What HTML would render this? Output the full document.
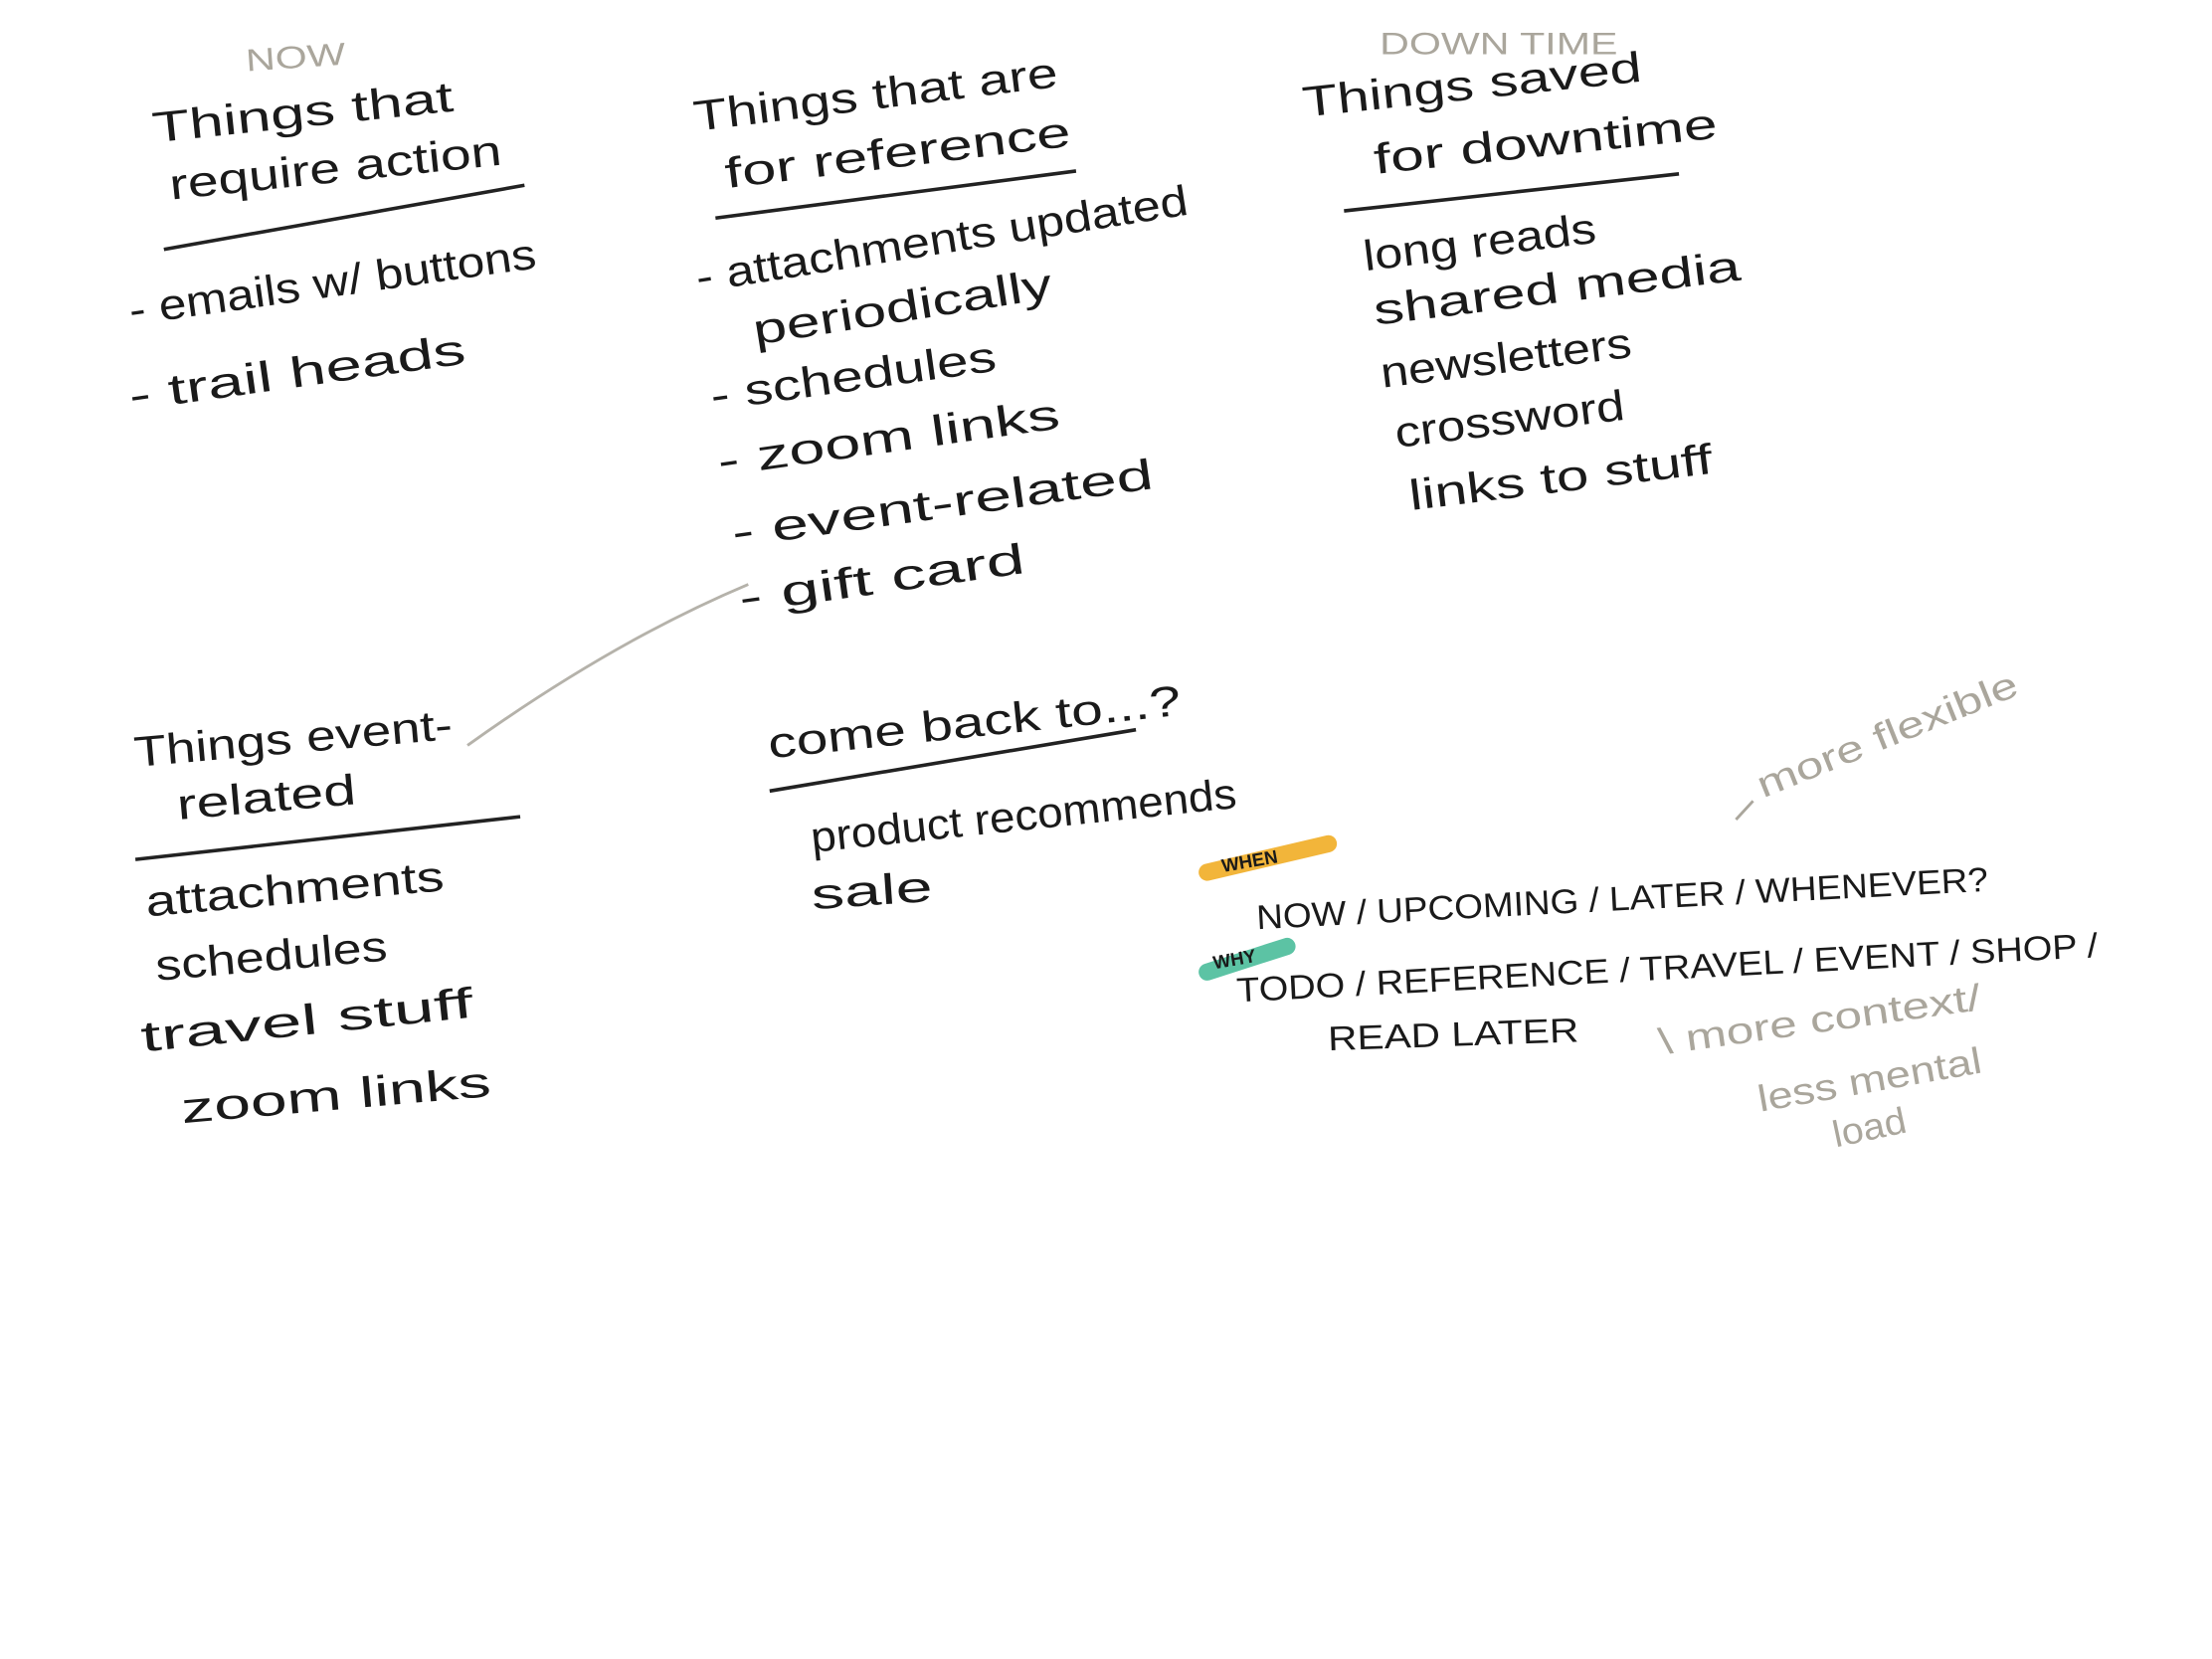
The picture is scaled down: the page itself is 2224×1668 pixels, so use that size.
<!DOCTYPE html>
<html><head><meta charset="utf-8"><style>
html,body{margin:0;padding:0;background:#fff;}
svg{display:block;}
text{font-family:"Liberation Sans",sans-serif;fill:#1a1a1a;}
.g{fill:#aaa69c;}
</style></head><body>
<svg width="2224" height="1668" viewBox="0 0 1552 1164" xmlns="http://www.w3.org/2000/svg">
<g font-size="30" lengthAdjust="spacingAndGlyphs">
<text class="g" x="173" y="50" font-size="22" textLength="70" lengthAdjust="spacingAndGlyphs" transform="rotate(-4 173 50)">NOW</text>
<text x="108" y="100" textLength="212" lengthAdjust="spacingAndGlyphs" transform="rotate(-6 108 100)">Things that</text>
<text x="120" y="140" textLength="234" lengthAdjust="spacingAndGlyphs" transform="rotate(-6 120 140)">require action</text>
<path d="M115 175 L368 130" stroke="#222" stroke-width="2.5" fill="none"/>
<text x="92" y="228" textLength="288" lengthAdjust="spacingAndGlyphs" transform="rotate(-8 92 228)">- emails w/ buttons</text>
<text x="92" y="288" textLength="238" lengthAdjust="spacingAndGlyphs" transform="rotate(-8 92 288)">- trail heads</text>

<text x="488" y="92" textLength="257" lengthAdjust="spacingAndGlyphs" transform="rotate(-7 488 92)">Things that are</text>
<text x="510" y="132" textLength="244" lengthAdjust="spacingAndGlyphs" transform="rotate(-7 510 132)">for reference</text>
<path d="M502 153 L755 120" stroke="#222" stroke-width="2.5" fill="none"/>
<text x="490" y="205" textLength="349" lengthAdjust="spacingAndGlyphs" transform="rotate(-9 490 205)">- attachments updated</text>
<text x="530" y="242" textLength="212" lengthAdjust="spacingAndGlyphs" transform="rotate(-9 530 242)">periodically</text>
<text x="500" y="288" textLength="202" lengthAdjust="spacingAndGlyphs" transform="rotate(-8 500 288)">- schedules</text>
<text x="505" y="334" textLength="242" lengthAdjust="spacingAndGlyphs" transform="rotate(-8 505 334)">- zoom links</text>
<text x="515" y="384" textLength="298" lengthAdjust="spacingAndGlyphs" transform="rotate(-8 515 384)">- event-related</text>
<text x="520" y="430" textLength="202" lengthAdjust="spacingAndGlyphs" transform="rotate(-8 520 430)">- gift card</text>
<path d="M525 410 Q430 450 328 523" stroke="#b5b2aa" stroke-width="2" fill="none"/>

<text class="g" x="968" y="38" font-size="22" textLength="167" lengthAdjust="spacingAndGlyphs">DOWN TIME</text>
<text x="915" y="82" textLength="239" lengthAdjust="spacingAndGlyphs" transform="rotate(-6 915 82)">Things saved</text>
<text x="965" y="122" textLength="242" lengthAdjust="spacingAndGlyphs" transform="rotate(-6 965 122)">for downtime</text>
<path d="M943 148 L1178 122" stroke="#222" stroke-width="2.5" fill="none"/>
<text x="958" y="190" textLength="164" lengthAdjust="spacingAndGlyphs" transform="rotate(-7 958 190)">long reads</text>
<text x="965" y="228" textLength="259" lengthAdjust="spacingAndGlyphs" transform="rotate(-7 965 228)">shared media</text>
<text x="970" y="272" textLength="177" lengthAdjust="spacingAndGlyphs" transform="rotate(-7 970 272)">newsletters</text>
<text x="980" y="314" textLength="162" lengthAdjust="spacingAndGlyphs" transform="rotate(-7 980 314)">crossword</text>
<text x="990" y="358" textLength="214" lengthAdjust="spacingAndGlyphs" transform="rotate(-7 990 358)">links to stuff</text>

<text x="95" y="538" textLength="224" lengthAdjust="spacingAndGlyphs" transform="rotate(-5 95 538)">Things event-</text>
<text x="125" y="575" textLength="126" lengthAdjust="spacingAndGlyphs" transform="rotate(-5 125 575)">related</text>
<path d="M95 603 L365 573" stroke="#222" stroke-width="2.5" fill="none"/>
<text x="103" y="643" textLength="210" lengthAdjust="spacingAndGlyphs" transform="rotate(-5 103 643)">attachments</text>
<text x="110" y="688" textLength="163" lengthAdjust="spacingAndGlyphs" transform="rotate(-5 110 688)">schedules</text>
<text x="100" y="738" textLength="234" lengthAdjust="spacingAndGlyphs" transform="rotate(-6 100 738)">travel stuff</text>
<text x="128" y="788" textLength="218" lengthAdjust="spacingAndGlyphs" transform="rotate(-5 128 788)">zoom links</text>

<text x="540" y="532" textLength="291" lengthAdjust="spacingAndGlyphs" transform="rotate(-6 540 532)">come back to...?</text>
<path d="M540 555 L797 512" stroke="#222" stroke-width="2.5" fill="none"/>
<text x="570" y="598" textLength="300" lengthAdjust="spacingAndGlyphs" transform="rotate(-6 570 598)">product recommends</text>
<text x="570" y="638" textLength="85" lengthAdjust="spacingAndGlyphs" transform="rotate(-4 570 638)">sale</text>

<path d="M847 612 L932 592" stroke="#f2b53a" stroke-width="12" stroke-linecap="round" fill="none"/>
<text x="858" y="612" font-size="13" font-weight="bold" transform="rotate(-10 858 612)">WHEN</text>
<text x="882" y="652" font-size="24" textLength="514" lengthAdjust="spacingAndGlyphs" transform="rotate(-3 882 652)">NOW / UPCOMING / LATER / WHENEVER?</text>
<path d="M847 682 L903 664" stroke="#5cc3a4" stroke-width="12" stroke-linecap="round" fill="none"/>
<text x="852" y="680" font-size="13" font-weight="bold" transform="rotate(-10 852 680)">WHY</text>
<text x="868" y="703" font-size="24" textLength="605" lengthAdjust="spacingAndGlyphs" transform="rotate(-3 868 703)">TODO / REFERENCE / TRAVEL / EVENT / SHOP /</text>
<text x="932" y="737" font-size="24" textLength="176" lengthAdjust="spacingAndGlyphs" transform="rotate(-2 932 737)">READ LATER</text>

<path d="M1218 575 L1230 562" stroke="#aaa69c" stroke-width="2" fill="none"/>
<text class="g" x="1237" y="560" font-size="26" textLength="195" lengthAdjust="spacingAndGlyphs" transform="rotate(-22 1237 560)">more flexible</text>
<text class="g" x="1165" y="740" font-size="26" textLength="228" lengthAdjust="spacingAndGlyphs" transform="rotate(-8 1165 740)">\ more context/</text>
<text class="g" x="1235" y="780" font-size="26" textLength="159" lengthAdjust="spacingAndGlyphs" transform="rotate(-10 1235 780)">less mental</text>
<text class="g" x="1288" y="805" font-size="26" textLength="52" lengthAdjust="spacingAndGlyphs" transform="rotate(-12 1288 805)">load</text>
</g>
</svg>
</body></html>
